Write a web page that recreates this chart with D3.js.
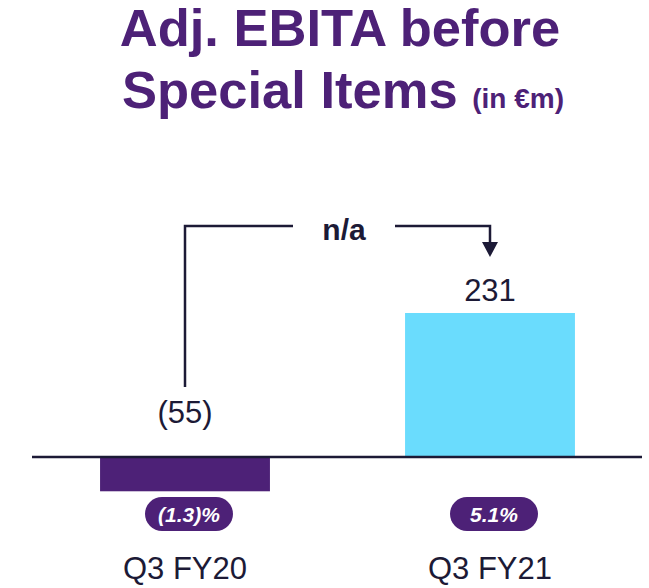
<!DOCTYPE html>
<html>
<head>
<meta charset="utf-8">
<script src="https://cdn.jsdelivr.net/npm/d3@7"></script>
<style>
  body { margin: 0; background: #fff; }
  text { font-family: "Liberation Sans", Arial, sans-serif; }
</style>
</head>
<body>
<svg id="chart"></svg>
<script>
// data
let categories = ["Q3 FY20", "Q3 FY21"];
let values = [-55, 231];
let valueLabels = ["(55)", "231"];
let marginLabels = ["(1.3)%", "5.1%"];
let changeLabel = "n/a";

let svgW = 649, svgH = 588;
let purple = "#4d2177", blue = "#6adcfd", ink = "#1c1a36";

let svg = d3.select("#chart")
    .attr("width", svgW)
    .attr("height", svgH)

// title
let title = svg.append("text")
    .attr("text-anchor", "middle")
    .attr("fill", purple)
    .style("font-weight", "bold")
title.append("tspan")
    .attr("x", 340).attr("y", 46)
    .style("font-size", "52.5px")
    .text("Adj. EBITA before")
title.append("tspan")
    .attr("x", 343).attr("y", 108)
    .style("font-size", "52.5px")
    .text("Special Items ")
    .append("tspan")
    .style("font-size", "28px")
    .text("(in €m)")

let xScale = d3.scaleBand()
    .domain(categories)
    .range([32.5, 642.5])
    .paddingInner(0.443)
    .paddingOuter(0.2215)

let yScale = d3.scaleLinear()
    .domain([0, 231])
    .range([457, 313])

let data = categories.map(function (c, i) {
    return { cat: c, value: values[i], label: valueLabels[i], margin: marginLabels[i] };
})

// bars
svg.selectAll("rect.bar")
    .data(data)
    .enter()
    .append("rect")
    .attr("class", "bar")
    .attr("x", function (d) { return xScale(d.cat); })
    .attr("y", function (d) { return yScale(Math.max(0, d.value)); })
    .attr("width", xScale.bandwidth())
    .attr("height", function (d) { return Math.abs(yScale(d.value) - yScale(0)); })
    .attr("fill", function (d) { return d.value < 0 ? purple : blue; })

// zero line
svg.append("line")
    .attr("x1", 32).attr("x2", 642)
    .attr("y1", yScale(0)).attr("y2", yScale(0))
    .attr("stroke", ink)
    .attr("stroke-width", 2.5)

let cx = function (d) { return xScale(d.cat) + xScale.bandwidth() / 2; };

// value labels
svg.selectAll("text.value")
    .data(data)
    .enter()
    .append("text")
    .attr("class", "value")
    .attr("x", cx)
    .attr("y", function (d) {
        return d.value < 0 ? yScale(0) - 34 : yScale(d.value) - 12;
    })
    .attr("text-anchor", "middle")
    .attr("fill", ink)
    .style("font-size", "31px")
    .text(function (d) { return d.label; })

// margin pills
let pill = svg.selectAll("g.pill")
    .data(data)
    .enter()
    .append("g")
    .attr("class", "pill")
    .attr("transform", function (d) { return "translate(" + (cx(d) + 4) + ",514)"; })
pill.append("rect")
    .attr("x", -44).attr("y", -17)
    .attr("width", 88).attr("height", 34)
    .attr("rx", 17)
    .attr("fill", purple)
pill.append("text")
    .attr("text-anchor", "middle")
    .attr("y", 7.5)
    .attr("fill", "#fff")
    .style("font-size", "21px")
    .style("font-weight", "bold")
    .style("font-style", "italic")
    .text(function (d) { return d.margin; })

// category labels
svg.selectAll("text.cat")
    .data(data)
    .enter()
    .append("text")
    .attr("class", "cat")
    .attr("x", cx)
    .attr("y", 579)
    .attr("text-anchor", "middle")
    .attr("fill", ink)
    .style("font-size", "31px")
    .text(function (d) { return d.cat; })

// change connector
let x0 = cx(data[0]), x1 = cx(data[1]), topY = 226;
svg.append("path")
    .attr("d", "M" + x0 + "," + 387 + "V" + topY + "H" + 293)
    .attr("fill", "none")
    .attr("stroke", ink)
    .attr("stroke-width", 2.5)
svg.append("path")
    .attr("d", "M" + 395 + "," + topY + "H" + x1 + "V" + 243)
    .attr("fill", "none")
    .attr("stroke", ink)
    .attr("stroke-width", 2.5)
svg.append("path")
    .attr("d", "M" + (x1 - 8) + ",242L" + (x1 + 8) + ",242L" + x1 + ",257Z")
    .attr("fill", ink)
svg.append("text")
    .attr("x", 344)
    .attr("y", 240)
    .attr("text-anchor", "middle")
    .attr("fill", ink)
    .style("font-size", "30px")
    .style("font-weight", "bold")
    .text(changeLabel)
</script>
</body>
</html>
